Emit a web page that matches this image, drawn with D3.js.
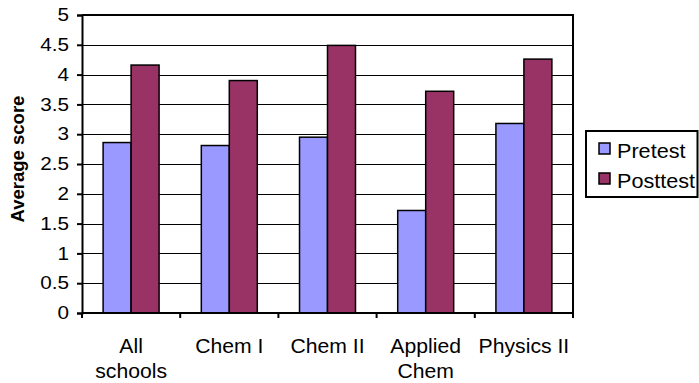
<!DOCTYPE html>
<html>
<head>
<meta charset="utf-8">
<script src="https://cdn.jsdelivr.net/npm/d3@7"></script>
<style>
  html, body { margin: 0; padding: 0; background: #fff; }
  svg { display: block; font-family: "Liberation Sans", Arial, sans-serif; }
</style>
</head>
<body>
<svg id="chart" width="699" height="383"></svg>
<script>
// Course groups along the x axis (multi-line labels split on "\n")
const categories = ["All\nschools", "Chem I", "Chem II", "Applied\nChem", "Physics II"];
const seriesNames = ["Pretest", "Posttest"];
const pretest  = [2.86, 2.81, 2.95, 1.72, 3.18];
const posttest = [4.16, 3.90, 4.49, 3.72, 4.26];
const yTicks = [0, 0.5, 1, 1.5, 2, 2.5, 3, 3.5, 4, 4.5, 5];
const colors = ["#9999FF", "#993366"];

const svg = d3.select("#chart");
const plot = { left: 82, right: 573, top: 15, bottom: 313 };

// Text in this chart is set slightly wide
const STRETCH = 1.1;

const x = d3.scaleBand()
  .domain(categories)
  .range([plot.left, plot.right])
  .paddingInner(0.43)
  .paddingOuter(0.215);

const xInner = d3.scaleBand()
  .domain(seriesNames)
  .range([0, x.bandwidth()]);

const y = d3.scaleLinear()
  .domain([0, 5])
  .range([plot.bottom, plot.top]);

// Horizontal gridlines
svg.append("g")
  .selectAll("line")
  .data(yTicks)
  .join("line")
  .attr("x1", plot.left).attr("x2", plot.right)
  .attr("y1", d => Math.round(y(d)) + 0.5).attr("y2", d => Math.round(y(d)) + 0.5)
  .attr("stroke", "#000").attr("stroke-width", 1.2);

// Bars
const rows = categories.map((c, i) => ({ cat: c, values: [pretest[i], posttest[i]] }));
svg.append("g")
  .selectAll("g")
  .data(rows)
  .join("g")
  .attr("transform", d => `translate(${x(d.cat)},0)`)
  .selectAll("rect")
  .data(d => d.values.map((v, j) => ({ name: seriesNames[j], value: v, j })))
  .join("rect")
  .attr("x", d => xInner(d.name))
  .attr("width", xInner.bandwidth())
  .attr("y", d => y(d.value))
  .attr("height", d => y(0) - y(d.value))
  .attr("fill", d => colors[d.j])
  .attr("stroke", "#000")
  .attr("stroke-width", 1.5);

// Plot border: top and right
svg.append("path")
  .attr("d", `M${plot.left},${plot.top}H${plot.right}V${plot.bottom}`)
  .attr("fill", "none").attr("stroke", "#000").attr("stroke-width", 2);

// Y axis
const yAxis = d3.axisLeft(y)
  .tickValues(yTicks)
  .tickFormat(d3.format("~g"))
  .tickSize(5)
  .tickPadding(0);
const gy = svg.append("g")
  .attr("transform", `translate(${plot.left},0)`)
  .call(yAxis);
gy.select(".domain").attr("stroke-width", 2);
gy.selectAll(".tick line").attr("stroke-width", 2);
gy.selectAll(".tick text")
  .attr("x", null)
  .attr("transform", `translate(-13,0) scale(${STRETCH + 0.05},1)`)
  .attr("font-size", 18)
  .attr("font-family", "Liberation Sans, Arial, sans-serif")
  .attr("fill", "#000");

// X axis: ticks at category boundaries
const step = x.step();
const boundaries = d3.range(categories.length + 1).map(i => plot.left + i * step);
svg.append("line")
  .attr("x1", plot.left).attr("x2", plot.right)
  .attr("y1", plot.bottom).attr("y2", plot.bottom)
  .attr("stroke", "#000").attr("stroke-width", 2);
svg.append("g")
  .selectAll("line")
  .data(boundaries)
  .join("line")
  .attr("x1", d => d).attr("x2", d => d)
  .attr("y1", plot.bottom).attr("y2", plot.bottom + 5)
  .attr("stroke", "#000").attr("stroke-width", 2);

// X category labels
svg.append("g")
  .selectAll("text")
  .data(categories)
  .join("text")
  .attr("transform", d => `translate(${x(d) + x.bandwidth() / 2},353) scale(${STRETCH - 0.04},1)`)
  .attr("text-anchor", "middle")
  .attr("font-size", 20)
  .attr("fill", "#000")
  .selectAll("tspan")
  .data(d => d.split("\n"))
  .join("tspan")
  .attr("x", 0)
  .attr("dy", (l, i) => i === 0 ? 0 : 25)
  .text(l => l);

// Y axis title
svg.append("text")
  .attr("transform", `translate(24,159) rotate(-90)`)
  .attr("text-anchor", "middle")
  .attr("font-size", 18.5)
  .attr("font-weight", "bold")
  .attr("fill", "#000")
  .text("Average score");

// Legend
const legend = svg.append("g");
legend.append("rect")
  .attr("x", 586).attr("y", 131).attr("width", 111.5).attr("height", 66)
  .attr("fill", "#fff").attr("stroke", "#000").attr("stroke-width", 2);
const items = legend.selectAll("g.item")
  .data(seriesNames)
  .join("g")
  .attr("class", "item")
  .attr("transform", (d, i) => `translate(0,${i * 30})`);
items.append("rect")
  .attr("x", 599).attr("y", 143).attr("width", 11).attr("height", 11)
  .attr("fill", (d, i) => colors[i])
  .attr("stroke", "#000").attr("stroke-width", 1.5);
items.append("text")
  .attr("transform", "translate(617,158) scale(1.03,1)")
  .attr("font-size", 21)
  .attr("fill", "#000")
  .text(d => d);
</script>
</body>
</html>
